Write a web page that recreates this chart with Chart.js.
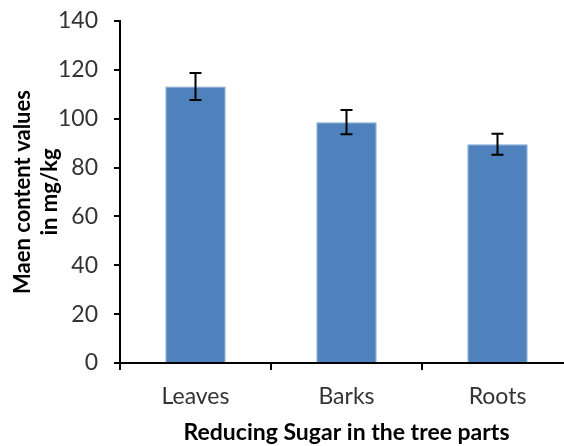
<!DOCTYPE html>
<html>
<head>
<meta charset="utf-8">
<script src="https://cdn.jsdelivr.net/npm/chart.js@4.4.1/dist/chart.umd.min.js"></script>
<style>
html,body{margin:0;padding:0;background:#fff;overflow:hidden;}
#wrap{width:580px;height:446px;position:relative;}
</style>
</head>
<body>
<div id="wrap"><canvas id="c"></canvas></div>
<script>
const categories = ["Leaves", "Barks", "Roots"];
const meanValues = [113.2, 98.6, 89.5];
const errorValues = [5.5, 5.0, 4.3];
const yTicks = [0, 20, 40, 60, 80, 100, 120, 140];

const errorBarPlugin = {
  id: 'errorBars',
  afterDatasetsDraw(chart) {
    const ctx = chart.ctx;
    const meta = chart.getDatasetMeta(0);
    const y = chart.scales.y;
    ctx.save();
    ctx.strokeStyle = '#000';
    ctx.lineWidth = 2;
    meta.data.forEach((bar, i) => {
      const x = bar.x;
      const top = y.getPixelForValue(meanValues[i] + errorValues[i]);
      const bot = y.getPixelForValue(meanValues[i] - errorValues[i]);
      const hw = 6;
      ctx.beginPath();
      ctx.moveTo(x, top); ctx.lineTo(x, bot);
      ctx.moveTo(x - hw, top); ctx.lineTo(x + hw, top);
      ctx.moveTo(x - hw, bot); ctx.lineTo(x + hw, bot);
      ctx.stroke();
    });
    ctx.restore();
  }
};

const font = "Lato, 'Open Sans', sans-serif";

new Chart(document.getElementById('c'), {
  type: 'bar',
  data: {
    labels: categories,
    datasets: [{
      data: meanValues,
      backgroundColor: '#4F81BD',
      borderColor: '#7FA3D0',
      borderWidth: 1,
      barPercentage: 0.4,
      categoryPercentage: 1.0
    }]
  },
  options: {
    responsive: true,
    maintainAspectRatio: false,
    animation: false,
    devicePixelRatio: 1,
    layout: { padding: { top: 21, right: 7, left: 0, bottom: 0 } },
    plugins: { legend: { display: false }, tooltip: { enabled: false } },
    scales: {
      x: {
        grid: { display: true, drawOnChartArea: false, drawTicks: true, tickLength: 7, color: '#000', lineWidth: 2, offset: true },
        border: { display: true, color: '#000', width: 2 },
        ticks: { color: '#333', font: { family: font, size: 23 }, padding: 13 },
        title: { display: true, text: 'Reducing Sugar in the tree parts', color: '#000', font: { family: font, size: 23, weight: 'bold' }, padding: { top: 2, bottom: 0 } },
        afterFit(s) { s.height = 83; s.paddingLeft = 0; s.paddingRight = 0; }
      },
      y: {
        min: 0, max: 140,
        afterBuildTicks(s) { s.ticks = yTicks.map(v => ({ value: v })); },
        grid: { display: true, drawOnChartArea: false, drawTicks: true, tickLength: 6, color: '#000', lineWidth: 2 },
        border: { display: true, color: '#000', width: 2 },
        ticks: { color: '#333', font: { family: font, size: 23 }, padding: 16 },
        title: { display: true, text: ['Maen content values', 'in mg/kg'], color: '#000', font: { family: font, size: 22, weight: 'bold', lineHeight: 1.2 }, padding: { top: 10, bottom: 4 } },
        afterFit(s) { s.width = 120; s.paddingTop = 0; s.paddingBottom = 0; }
      }
    }
  },
  plugins: [errorBarPlugin]
});
</script>
</body>
</html>
